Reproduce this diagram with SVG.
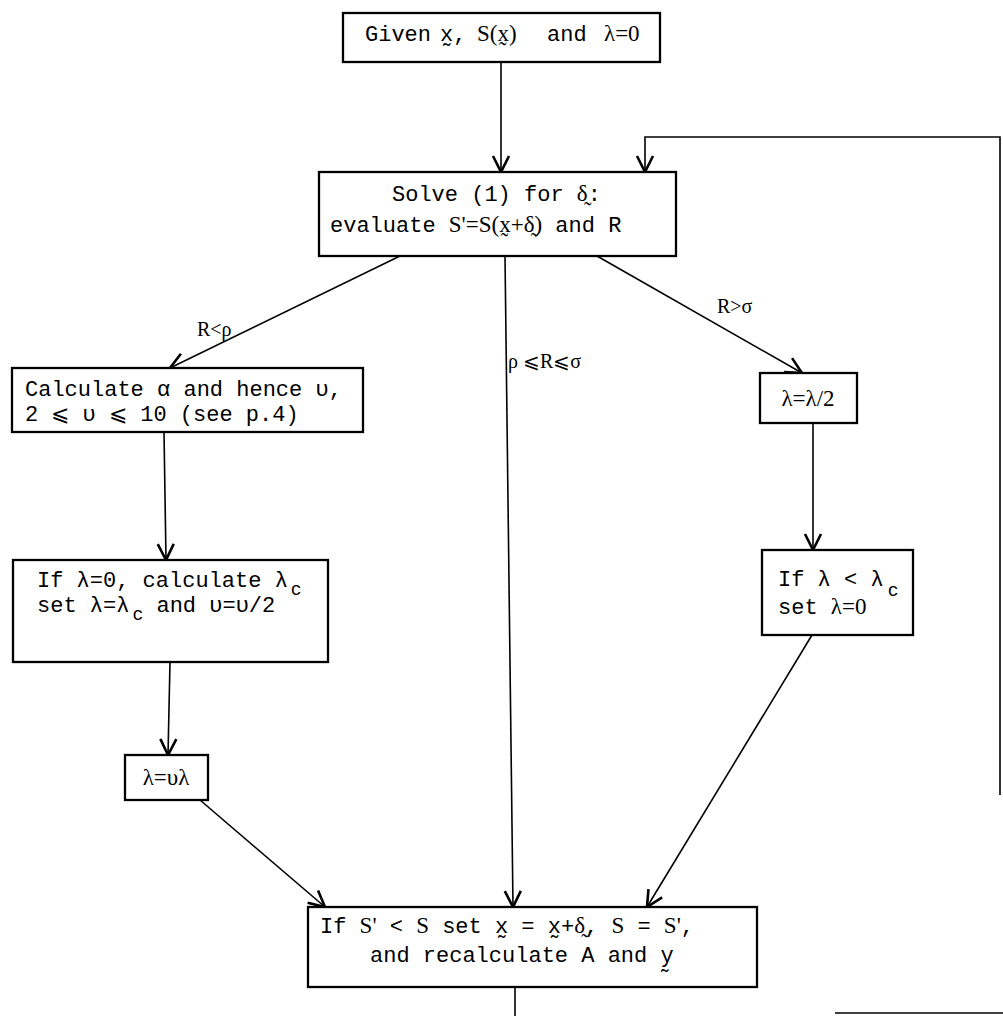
<svg xmlns="http://www.w3.org/2000/svg" width="1003" height="1016" viewBox="0 0 1003 1016">
<style>
.box{fill:#fff;stroke:#000;stroke-width:2.3}
.ln{fill:none;stroke:#000;stroke-width:1.6}
.t{font-family:"Liberation Mono","DejaVu Sans Mono",monospace;font-size:22px;fill:#000}
.m{font-family:"Liberation Serif","DejaVu Serif",serif;font-size:23px}
.lab{font-family:"Liberation Serif","DejaVu Serif",serif;font-size:20px;fill:#000}
.sub{font-size:18px}
</style>
<defs>
<marker id="ah" markerUnits="userSpaceOnUse" markerWidth="22" markerHeight="22" viewBox="0 0 22 22" refX="20" refY="11" orient="auto">
<path d="M4,3 L20,11 L4,19" fill="none" stroke="#000" stroke-width="2.6"/>
</marker>
</defs>
<rect width="1003" height="1016" fill="#fff"/>
<g id="connectors">
<line class="ln" x1="501" y1="62" x2="501" y2="172" marker-end="url(#ah)"/>
<line class="ln" x1="400" y1="256" x2="170" y2="368" marker-end="url(#ah)"/>
<line class="ln" x1="597" y1="256" x2="802" y2="373" marker-end="url(#ah)"/>
<line class="ln" x1="505" y1="256" x2="513" y2="907" marker-end="url(#ah)"/>
<line class="ln" x1="164" y1="432" x2="166" y2="560" marker-end="url(#ah)"/>
<line class="ln" x1="813" y1="423" x2="813" y2="550" marker-end="url(#ah)"/>
<line class="ln" x1="170" y1="662" x2="168" y2="755" marker-end="url(#ah)"/>
<line class="ln" x1="200" y1="800" x2="325" y2="907" marker-end="url(#ah)"/>
<line class="ln" x1="812" y1="635" x2="647" y2="907" marker-end="url(#ah)"/>
<line class="ln" x1="515" y1="987" x2="515" y2="1016"/>
<line class="ln" x1="835" y1="1013" x2="1003" y2="1013"/>
<polyline class="ln" points="1000,795 1000,137 645,137 645,172" marker-end="url(#ah)"/>
<text class="lab" x="197" y="336">R&lt;ρ</text>
<text class="lab" x="717" y="313">R&gt;σ</text>
<text class="lab" x="508" y="368">ρ ⩽R⩽σ</text>
</g>
<g id="n-start">
<rect class="box" x="343" y="13" width="317" height="49"/>
<text class="t" y="41"><tspan x="365">Given</tspan><tspan x="440">x&#x330;,</tspan><tspan x="477" class="m">S(x&#x330;)</tspan><tspan x="547">and</tspan><tspan x="604" class="m">λ=0</tspan></text>
</g>
<g id="n-solve">
<rect class="box" x="319" y="172" width="357" height="84"/>
<text class="t" x="392" y="201">Solve (1) for <tspan class="m">δ&#x330;</tspan>:</text>
<text class="t" x="330" y="232">evaluate <tspan class="m">S'=S(x&#x330;+δ&#x330;)</tspan> and R</text>
</g>
<g id="n-calc">
<rect class="box" x="12" y="368" width="351" height="64"/>
<text class="t" x="25" y="396">Calculate α and hence υ,</text>
<text class="t" x="25" y="421">2 ⩽ υ ⩽ 10 (see p.4)</text>
</g>
<g id="n-half">
<rect class="box" x="760" y="373" width="97" height="50"/>
<text class="t" x="808" y="406" text-anchor="middle"><tspan class="m">λ=λ/2</tspan></text>
</g>
<g id="n-lc">
<rect class="box" x="13" y="560" width="315" height="102"/>
<text class="t" x="37" y="587">If λ=0, calculate λ<tspan class="sub" dx="3" dy="8">c</tspan></text>
<text class="t" x="37" y="612">set λ=λ<tspan class="sub" dx="3" dy="8">c</tspan><tspan dy="-8"> and υ=υ/2</tspan></text>
</g>
<g id="n-check">
<rect class="box" x="762" y="550" width="151" height="85"/>
<text class="t" x="778" y="586">If λ &lt; λ<tspan class="sub" dx="4" dy="10">c</tspan></text>
<text class="t" x="778" y="614">set <tspan class="m">λ=0</tspan></text>
</g>
<g id="n-mult">
<rect class="box" x="125" y="755" width="83" height="45"/>
<text class="t" x="166" y="785" text-anchor="middle"><tspan class="m">λ=υλ</tspan></text>
</g>
<g id="n-update">
<rect class="box" x="308" y="907" width="449" height="80"/>
<text class="t" x="320" y="933">If <tspan class="m">S'</tspan> &lt; <tspan class="m">S</tspan> set x&#x330; = x&#x330;+<tspan class="m">δ&#x330;</tspan>, <tspan class="m">S</tspan> = <tspan class="m">S'</tspan>,</text>
<text class="t" x="370" y="962">and recalculate A and y&#x330;</text>
</g>
</svg>
